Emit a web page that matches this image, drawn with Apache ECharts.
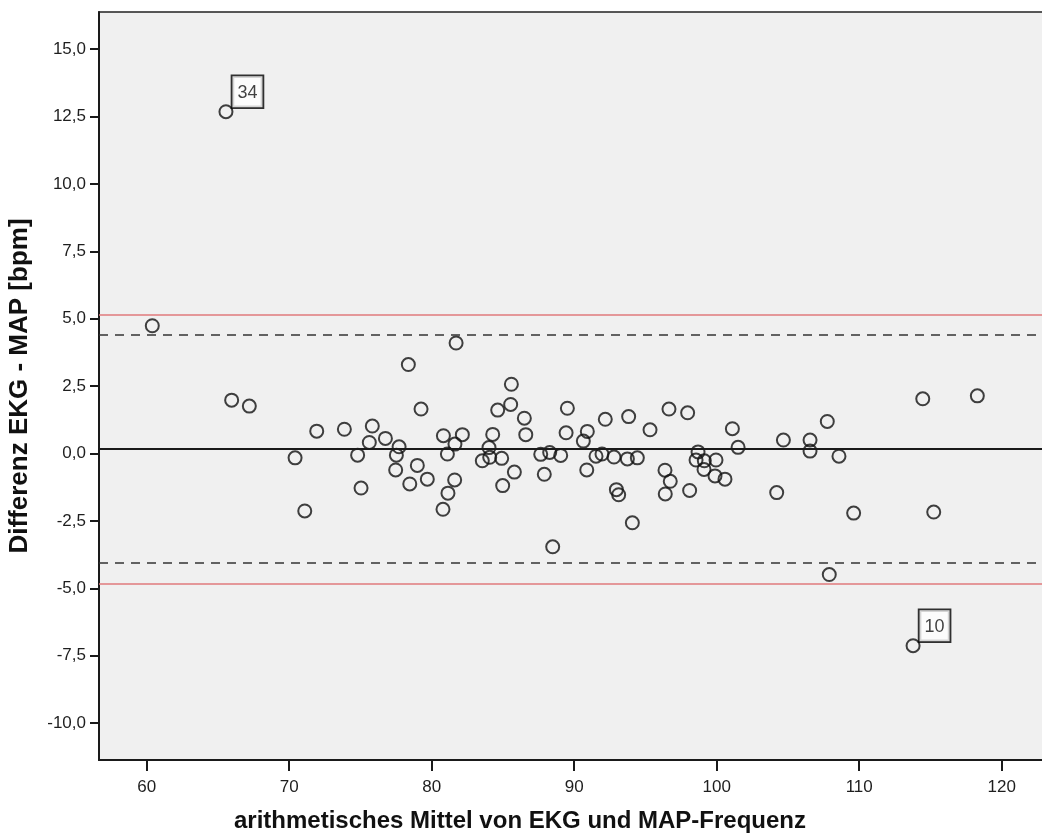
<!DOCTYPE html>
<html>
<head>
<meta charset="utf-8">
<script src="https://cdn.jsdelivr.net/npm/echarts@6/dist/echarts.min.js"></script>
<style>
  html, body { margin: 0; padding: 0; background: #fff; }
  #chart { width: 1042px; height: 840px; }
</style>
</head>
<body>
<div id="chart"></div>
<script>
// Bland-Altman plot: mean of ECG and MAP heart rate vs. their difference
const meanHR = [
  60.39, 65.96, 67.2, 70.41, 71.09, 71.93, 73.87, 74.8, 75.04, 75.62,
  75.83, 76.75, 77.47, 77.52, 77.71, 78.36, 78.46, 78.99, 79.25, 79.69,
  80.79, 80.82, 81.1, 81.14, 81.61, 81.63, 81.71, 82.15, 83.55, 84.02,
  84.07, 84.28, 84.63, 84.91, 84.98, 85.54, 85.59, 85.8, 86.5, 86.6,
  87.65, 87.9, 88.28, 88.49, 89.05, 89.52, 89.43, 90.64, 90.92, 90.88,
  91.53, 91.95, 92.18, 92.79, 92.96, 93.12, 93.82, 93.73, 94.08, 94.43,
  95.32, 96.37, 96.39, 96.65, 96.74, 97.96, 98.1, 98.69, 98.55, 99.13,
  99.11, 99.95, 99.88, 100.58, 101.1, 101.5, 104.21, 104.68, 106.55, 106.55,
  107.76, 108.58, 109.61, 114.46, 115.23, 118.29, 107.9
];
const diffHR = [
  4.74, 1.98, 1.76, -0.16, -2.13, 0.83, 0.9, -0.06, -1.28, 0.41,
  1.02, 0.56, -0.61, -0.06, 0.25, 3.3, -1.13, -0.44, 1.65, -0.95,
  -2.07, 0.66, -0.02, -1.47, -0.98, 0.35, 4.1, 0.7, -0.27, 0.22,
  -0.14, 0.71, 1.61, -0.18, -1.19, 1.82, 2.57, -0.69, 1.31, 0.7,
  -0.03, -0.77, 0.04, -3.46, -0.07, 1.68, 0.77, 0.46, 0.82, -0.61,
  -0.1, -0.02, 1.27, -0.13, -1.34, -1.53, 1.37, -0.2, -2.57, -0.16,
  0.88, -0.62, -1.5, 1.65, -1.03, 1.51, -1.37, 0.06, -0.24, -0.27,
  -0.59, -0.24, -0.83, -0.95, 0.92, 0.23, -1.45, 0.5, 0.5, 0.09,
  1.19, -0.1, -2.21, 2.03, -2.17, 2.14, -4.49
];

// Outlying cases marked with their case number
const caseMean = [65.56, 113.78];
const caseDiff = [12.68, -7.13];
const caseNo = ['34', '10'];

// Mean difference and limits of agreement
const meanDiff = 0.17;
const dashedLimits = [4.40, -4.07];
const redLimits = [5.16, -4.83];

const xTicks = [60, 70, 80, 90, 100, 110, 120];
const yTicks = [-10, -7.5, -5, -2.5, 0, 2.5, 5, 7.5, 10, 12.5, 15];

const labelFont = '"Liberation Sans", Arial, sans-serif';

const pointStyle = {
  color: 'rgba(0,0,0,0)',
  borderColor: '#111',
  borderWidth: 2
};

const chart = echarts.init(document.getElementById('chart'), null, { renderer: 'canvas' });

chart.setOption({
  animation: false,
  backgroundColor: '#ffffff',
  grid: {
    left: 99, top: 12, width: 953, height: 748,
    show: true,
    backgroundColor: '#f0f0f0',
    borderColor: '#222',
    borderWidth: 1.5,
    containLabel: false,
    outerBoundsMode: 'none'
  },
  xAxis: {
    type: 'value',
    min: 56.65,
    max: 123.53,
    splitLine: { show: false },
    axisLine: { onZero: false, lineStyle: { color: '#1a1a1a', width: 2 } },
    axisTick: { customValues: xTicks, length: 11, lineStyle: { color: '#1a1a1a', width: 2 } },
    axisLabel: {
      customValues: xTicks,
      margin: 19,
      fontSize: 17,
      fontFamily: labelFont,
      color: '#1e1e1e'
    }
  },
  yAxis: {
    type: 'value',
    min: -11.37,
    max: 16.38,
    name: 'Differenz EKG - MAP [bpm]',
    nameLocation: 'middle',
    nameGap: 66,
    nameTextStyle: { fontSize: 26, fontWeight: 'bold', fontFamily: labelFont, color: '#111' },
    splitLine: { show: false },
    axisLine: { onZero: false, lineStyle: { color: '#1a1a1a', width: 2 } },
    axisTick: { customValues: yTicks, length: 9, lineStyle: { color: '#1a1a1a', width: 2 } },
    axisLabel: {
      customValues: yTicks,
      margin: 13,
      fontSize: 17,
      fontFamily: labelFont,
      color: '#1e1e1e',
      formatter: v => v.toFixed(1).replace('.', ',')
    }
  },
  graphic: [{
    type: 'text',
    x: 520,
    y: 821,
    style: {
      text: 'arithmetisches Mittel von EKG und MAP-Frequenz',
      font: 'bold 24px ' + labelFont,
      fill: '#111',
      textAlign: 'center',
      textVerticalAlign: 'middle'
    }
  }],
  series: [
    {
      type: 'scatter',
      symbol: 'circle',
      symbolSize: 13,
      itemStyle: pointStyle,
      data: meanHR.map((x, i) => [x, diffHR[i]]),
      markLine: {
        silent: true,
        symbol: 'none',
        label: { show: false },
        data: [
          { yAxis: redLimits[0], lineStyle: { color: '#e07a7c', width: 1.6, type: 'solid' } },
          { yAxis: redLimits[1], lineStyle: { color: '#e07a7c', width: 1.6, type: 'solid' } },
          { yAxis: dashedLimits[0], lineStyle: { color: '#333', width: 1.6, type: [9, 7] } },
          { yAxis: dashedLimits[1], lineStyle: { color: '#333', width: 1.6, type: [9, 7] } },
          { yAxis: meanDiff, lineStyle: { color: '#1a1a1a', width: 1.8, type: 'solid' } }
        ]
      },
      z: 3
    },
    {
      type: 'scatter',
      symbol: 'circle',
      symbolSize: 13,
      itemStyle: pointStyle,
      data: caseMean.map((x, i) => ({ value: [x, caseDiff[i]], name: caseNo[i] })),
      label: {
        show: true,
        formatter: p => p.name,
        position: [14, -28],
        fontSize: 18,
        fontFamily: labelFont,
        color: '#111',
        backgroundColor: '#ffffff',
        borderColor: '#000',
        borderWidth: 1.8,
        padding: [7, 5, 5, 5],
        lineHeight: 19
      },
      z: 4
    }
  ]
});
</script>
</body>
</html>
